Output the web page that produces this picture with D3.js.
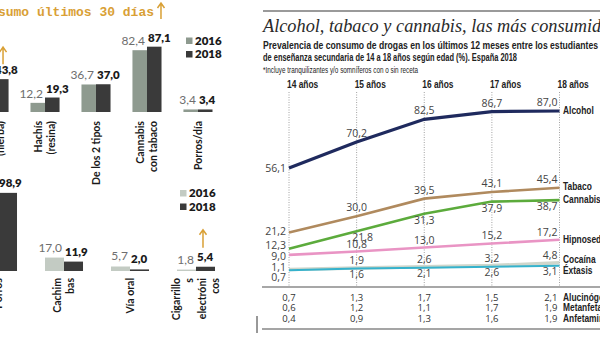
<!DOCTYPE html>
<html>
<head>
<meta charset="utf-8">
<script src="https://cdn.jsdelivr.net/npm/d3@7"></script>
<style>
body { margin: 0; background: #fff; }
svg { display: block; }
</style>
</head>
<body>
<svg></svg>
<script>
// ---- data: left bar panels (2016 vs 2018)
var years = ["2016", "2018"]

var topCats = ["Marihuana (hierba)", "Hachís (resina)", "De los 2 tipos", "Cannabis con tabaco", "Porros/día"]
var topLines = [["Marihuana", "(hierba)"], ["Hachís", "(resina)"], ["De los 2 tipos"], ["Cannabis", "con tabaco"], ["Porros/día"]]
var top2016 = [41.0, 12.2, 36.7, 82.4, 3.4]
var top2018 = [43.8, 19.3, 37.0, 87.1, 3.4]

var botCats = ["Porros", "Cachimbas", "Vía oral", "Cigarrillos electrónicos"]
var botLines = [["Porros"], ["Cachim", "bas"], ["Vía oral"], ["Cigarrillo", "s", "electróni", "cos"]]
var bot2016 = [92.0, 17.0, 5.7, 1.8]
var bot2018 = [98.9, 11.9, 2.0, 5.4]

// ---- data: right line chart
var ages = ["14 años", "15 años", "16 años", "17 años", "18 años"]
var seriesNames = ["Alcohol", "Tabaco", "Cannabis", "Hipnosedantes*", "Cocaína", "Éxtasis"]
var alcohol = [56.1, 70.2, 82.5, 86.7, 87.0]
var tabaco = [21.2, 30.0, 39.5, 43.1, 45.4]
var cannabis = [12.3, 21.8, 31.3, 37.9, 38.7]
var hipnosed = [9.0, 10.8, 13.0, 15.2, 17.2]
var cocaina = [1.1, 1.9, 2.6, 3.2, 4.8]
var extasis = [0.7, 1.6, 2.1, 2.6, 3.1]

var tableNames = ["Alucinógenos", "Metanfetamina", "Anfetaminas"]
var alucinogenos = [0.7, 1.3, 1.7, 1.5, 2.1]
var metanfetamina = [0.6, 1.2, 1.1, 1.7, 1.9]
var anfetaminas = [0.4, 0.9, 1.3, 1.6, 1.9]

var width = 600,
    height = 337

var svg = d3.select("svg")
    .attr("width", width)
    .attr("height", height)

var fmt = function(v) { return d3.format(".1f")(v).replace(".", ",") }
var orange = "#d9a035"
var gothic = "Lato, 'DejaVu Sans', sans-serif"

// Draw one bar panel
function barPanel(cats, lines, v16, v18, opt) {
    var x = d3.scaleBand()
        .domain(cats)
        .range(opt.xRange)
        .paddingInner(opt.pad)
    var xYear = d3.scaleBand()
        .domain(years)
        .range([0, x.bandwidth()])
    var y = d3.scaleLinear()
        .domain([0, 100])
        .range([opt.base, opt.base - opt.h100])

    var rows = cats.map(function(c, i) {
        return {cat: c, lines: lines[i], v: [v16[i], v18[i]]}
    })

    var g = svg.append("g")
    var grp = g.selectAll("g.grp")
        .data(rows)
        .enter().append("g")
        .attr("class", "grp")
        .attr("transform", function(d) { return "translate(" + x(d.cat) + ",0)" })

    grp.selectAll("rect")
        .data(function(d) { return d.v })
        .enter().append("rect")
        .attr("x", function(d, i) { return xYear(years[i]) })
        .attr("width", xYear.bandwidth())
        .attr("y", function(d) { return y(d) })
        .attr("height", function(d) { return opt.base - y(d) })
        .style("fill", function(d, i) { return i == 0 ? opt.c16 : "#3a3a3a" })

    // value labels, 2016 to the left of the bar boundary, 2018 to the right
    grp.selectAll("text.val")
        .data(function(d) { return d.v })
        .enter().append("text")
        .attr("class", "val")
        .attr("x", function(d, i) { return xYear.bandwidth() + (i == 0 ? -2 : 1) })
        .attr("y", function(d) { return y(d) - opt.lab })
        .attr("text-anchor", function(d, i) { return i == 0 ? "end" : "start" })
        .style("font-family", gothic)
        .style("font-size", function(d, i) { return i == 0 ? "12px" : "11.5px" })
        .style("font-weight", function(d, i) { return i == 0 ? 400 : 800 })
        .style("fill", function(d, i) { return i == 0 ? "#6e6e6e" : "#1a1a1a" })
        .text(fmt)

    // rotated category names
    grp.each(function(d) {
        var n = d.lines.length
        d3.select(this).selectAll("text.cat")
            .data(d.lines)
            .enter().append("text")
            .attr("class", "cat")
            .attr("transform", function(t, k) {
                var cx = x.bandwidth() / 2 + (k - (n - 1) / 2) * 13
                return "translate(" + cx + "," + opt.catTop + ") rotate(-90)"
            })
            .attr("dy", "0.36em")
            .attr("text-anchor", "end")
            .style("font-family", gothic)
            .style("font-size", "10.5px")
            .style("font-weight", 700)
            .style("fill", "#1a1a1a")
            .text(function(t) { return t })
    })

    // legend
    var leg = g.selectAll("g.leg")
        .data(years)
        .enter().append("g")
        .attr("class", "leg")
        .attr("transform", function(d, i) { return "translate(" + opt.leg[0] + "," + (opt.leg[1] + i * 13.5) + ")" })
    leg.append("rect")
        .attr("width", 6.5).attr("height", 6.5)
        .attr("y", -7)
        .style("fill", function(d, i) { return i == 0 ? opt.c16 : "#3a3a3a" })
    leg.append("text")
        .attr("x", 9)
        .style("font-family", gothic)
        .style("font-size", "11.5px")
        .style("font-weight", 800)
        .style("fill", "#1a1a1a")
        .text(function(d) { return d })

    return {x: x, xYear: xYear, y: y}
}

function arrow(xp, y0, y1) {
    svg.append("path")
        .attr("d", "M" + xp + "," + y0 + "V" + y1 + "M" + (xp - 3.5) + "," + (y1 + 5) + "L" + xp + "," + y1 + "L" + (xp + 3.5) + "," + (y1 + 5))
        .style("fill", "none")
        .style("stroke", orange)
        .style("stroke-width", 1.5)
}

var topP = barPanel(topCats, topLines, top2016, top2018, {
    xRange: [-20.5, 212.5], pad: 0.43, base: 112, h100: 75, c16: "#8e9a8f",
    lab: 5, catTop: 121, leg: [186, 44.5]
})
var botP = barPanel(botCats, botLines, bot2016, bot2018, {
    xRange: [-21, 215], pad: 0.424, base: 271, h100: 79, c16: "#c3cbc3",
    lab: 6, catTop: 278, leg: [180, 197]
})

// orange title and arrows
var cX = topP.x("Cannabis con tabaco") + topP.xYear.bandwidth() + 14
arrow(cX, 19, 3)
svg.append("text")
    .attr("x", cX - 7)
    .attr("y", 16)
    .attr("text-anchor", "end")
    .style("font-family", "'Liberation Mono', 'DejaVu Sans Mono', monospace")
    .style("font-size", "13px")
    .style("font-weight", 700)
    .style("fill", orange)
    .text("Consumo últimos 30 días")

var hX = topP.x(topCats[0]) + topP.xYear.bandwidth() + 9
arrow(hX, topP.y(top2018[0]) - 15, topP.y(top2018[0]) - 32)
var eX = botP.x(botCats[3]) + botP.xYear.bandwidth() + 7
arrow(eX, botP.y(bot2018[3]) - 19, botP.y(bot2018[3]) - 37)

// ---- right panel: line chart
var sans = "'Liberation Sans', Arial, sans-serif"
var numFont = "'Open Sans', sans-serif"

// bold condensed label (Arial Narrow look): squeeze horizontally
function narrowText(sel, px, py) {
    return sel
        .attr("transform", function(d, i) {
            return "translate(" + px(d, i) + "," + py(d, i) + ") scale(0.8,1)"
        })
        .style("font-family", sans)
        .style("font-weight", 700)
        .style("font-size", "10.5px")
        .style("fill", "#222")
}

svg.append("line")
    .attr("x1", 263).attr("x2", 600).attr("y1", 11).attr("y2", 11)
    .style("stroke", "#9a9a9a").style("stroke-width", 2)

svg.append("text")
    .attr("x", 263).attr("y", 32)
    .style("font-family", "'Liberation Serif', serif")
    .style("font-style", "italic")
    .style("font-size", "18.3px")
    .style("fill", "#2a2a2a")
    .text("Alcohol, tabaco y cannabis, las más consumidas")

var subs = [
    ["Prevalencia de consumo de drogas en los últimos 12 meses entre los estudiantes", 48.5, 335, 700, 10],
    ["de enseñanza secundaria de 14 a 18 años según edad (%). España 2018", 61, 254, 700, 10],
    ["*Incluye tranquilizantes y/o somníferos con o sin receta", 73, 155, 400, 9.5]
]
svg.selectAll("text.sub")
    .data(subs)
    .enter().append("text")
    .attr("class", "sub")
    .attr("x", 263)
    .attr("y", function(d) { return d[1] })
    .attr("textLength", function(d) { return d[2] })
    .attr("lengthAdjust", "spacingAndGlyphs")
    .style("font-family", sans)
    .style("font-weight", function(d) { return d[3] })
    .style("font-size", function(d) { return d[4] + "px" })
    .style("fill", "#222")
    .text(function(d) { return d[0] })

var x = d3.scalePoint()
    .domain(ages)
    .range([289, 559.5])

var y = d3.scaleLinear()
    .domain([0, 87])
    .range([271.5, 111])

// age headers and dotted guides
narrowText(svg.selectAll("text.age")
    .data(ages)
    .enter().append("text")
    .attr("class", "age"),
    function(d) { return x(d) - 2 }, function() { return 88 })
    .text(function(d) { return d })

svg.selectAll("line.guide")
    .data(ages)
    .enter().append("line")
    .attr("class", "guide")
    .attr("x1", function(d) { return x(d) })
    .attr("x2", function(d) { return x(d) })
    .attr("y1", 92).attr("y2", 287)
    .style("stroke", "#8a8a8a")
    .style("stroke-width", 0.8)
    .style("stroke-dasharray", "1,1.5")

svg.append("line")
    .attr("x1", 262).attr("x2", 600).attr("y1", 287).attr("y2", 287)
    .style("stroke", "#8a8a8a").style("stroke-width", 1.5)

var series = [alcohol, tabaco, cannabis, hipnosed, cocaina, extasis].map(function(v, i) {
    return {name: seriesNames[i], values: v}
})
var colors = ["#1f2a5e", "#b08a5e", "#5cab3c", "#e994c4", "#cfd6cb", "#35b2cc"]
var widths = [3.2, 2.6, 2.6, 2.6, 3.5, 2]
var dyFirst = [4, 3, 0, 5, 1.5, 11]     // label offsets at 14 años
var dyOther = [-5, -5, 10, -4, -4, 9]   // label offsets at 15-18 años
var dyName = [2.5, 2.5, 2.5, 3, 0.5, 8]

var line = d3.line()
    .x(function(d, i) { return x(ages[i]) })
    .y(function(d) { return y(d) })

svg.selectAll("path.series")
    .data(series)
    .enter().append("path")
    .attr("class", "series")
    .attr("d", function(d) { return line(d.values) })
    .style("fill", "none")
    .style("stroke", function(d, i) { return colors[i] })
    .style("stroke-width", function(d, i) { return widths[i] })

series.forEach(function(s, si) {
    svg.selectAll("text.v" + si)
        .data(s.values)
        .enter().append("text")
        .attr("class", "v" + si)
        .attr("x", function(d, i) {
            var dx = (si == 2 && i == 1) ? 6 : 0   // nudge 21,8 clear of 10,8
            return i == 0 ? x(ages[i]) - 3 : (i == ages.length - 1 ? x(ages[i]) - 2 : x(ages[i]) + dx)
        })
        .attr("y", function(d, i) { return y(d) + (i == 0 ? dyFirst[si] : dyOther[si]) })
        .attr("text-anchor", function(d, i) {
            return i == 0 || i == ages.length - 1 ? "end" : "middle"
        })
        .style("font-family", numFont)
        .style("font-size", "10.5px")
        .style("fill", "#444")
        .text(fmt)

    narrowText(svg.append("text").datum(s),
        function() { return 563 },
        function(d) { return y(d.values[ages.length - 1]) + dyName[si] })
        .text(s.name)
})

// small table under the axis
var table = [alucinogenos, metanfetamina, anfetaminas]
table.forEach(function(vals, r) {
    var yy = 300.5 + r * 10.5
    svg.selectAll("text.t" + r)
        .data(vals)
        .enter().append("text")
        .attr("class", "t" + r)
        .attr("x", function(d, i) { return i == ages.length - 1 ? x(ages[i]) - 2 : x(ages[i]) })
        .attr("y", yy)
        .attr("text-anchor", function(d, i) { return i == ages.length - 1 ? "end" : "middle" })
        .style("font-family", numFont)
        .style("font-size", "9.5px")
        .style("fill", "#333")
        .text(fmt)
    narrowText(svg.append("text").datum(tableNames[r]),
        function() { return 563 }, function() { return yy })
        .text(tableNames[r])
})

svg.append("line")
    .attr("x1", 262).attr("x2", 600).attr("y1", 329).attr("y2", 329)
    .style("stroke", "#a5a5a5").style("stroke-width", 2)
svg.append("line")
    .attr("x1", 257).attr("x2", 257).attr("y1", 316).attr("y2", 333)
    .style("stroke", "#333").style("stroke-width", 1)
</script>
</body>
</html>
